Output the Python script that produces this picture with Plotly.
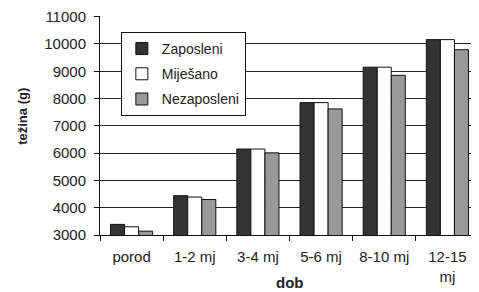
import plotly.graph_objects as go

categories = ["porod", "1-2 mj", "3-4 mj", "5-6 mj", "8-10 mj", "12-15<br>mj"]
zaposleni = [3390, 4440, 6150, 7850, 9150, 10160]
mijesano = [3300, 4390, 6150, 7850, 9150, 10160]
nezaposleni = [3140, 4300, 6010, 7620, 8850, 9790]
series_names = ["Zaposleni", "Miješano", "Nezaposleni"]
series_colors = ["#333333", "#ffffff", "#999999"]
y_ticks = [3000, 4000, 5000, 6000, 7000, 8000, 9000, 10000, 11000]
y_ticktext = [str(v) for v in y_ticks]
x_title = "dob"
y_title = "težina (g)"

FONT = "Liberation Sans, Arial, sans-serif"

fig = go.Figure()
for i, (name, vals, col) in enumerate(zip(series_names, [zaposleni, mijesano, nezaposleni], series_colors)):
    fig.add_trace(go.Bar(
        x=categories, y=vals, name=name, legendgroup=str(i),
        marker=dict(color=col, line=dict(color="#111111", width=1)),
    ))

# page body has an 8px margin, so the figure is offset by 8px
fig.update_layout(
    width=471, height=284,
    margin=dict(l=92, r=0, t=8, b=57),
    paper_bgcolor="white", plot_bgcolor="white",
    barmode="group", bargap=0.333, bargroupgap=0,
    font=dict(family=FONT, size=15, color="#222222"),
    showlegend=True,
    legend=dict(
        x=0.055, y=0.927, xanchor="left", yanchor="top",
        bgcolor="white", bordercolor="#111111", borderwidth=1,
        font=dict(family=FONT, size=14, color="#222222"),
        traceorder="grouped", tracegroupgap=4,
        itemwidth=30,
    ),
    xaxis=dict(
        automargin=False,
        showline=True, linecolor="#111111", linewidth=1,
        ticks="outside", tickson="boundaries", ticklen=5, tickcolor="#111111",
        tickfont=dict(size=15), ticklabelstandoff=8,
        showgrid=False,
    ),
    yaxis=dict(
        automargin=False,
        range=[3000, 11025], tickvals=y_ticks, ticktext=y_ticktext,
        ticklabeloverflow="allow",
        showline=True, linecolor="#111111", linewidth=1,
        ticks="outside", ticklen=5, tickcolor="#111111",
        tickfont=dict(size=15), ticklabelstandoff=5,
        showgrid=True, gridcolor="#222222", gridwidth=1,
        zeroline=False,
    ),
    annotations=[
        dict(text="<b>" + x_title + "</b>", xref="paper", yref="paper",
             x=0.5, y=-0.215, xanchor="center", yanchor="middle",
             showarrow=False, font=dict(size=15)),
        dict(text="<b>" + y_title + "</b>", xref="paper", yref="paper",
             x=-0.203, y=0.54, xanchor="center", yanchor="middle",
             textangle=-90, showarrow=False, font=dict(size=13)),
    ],
)

fig.write_html("out.html")
